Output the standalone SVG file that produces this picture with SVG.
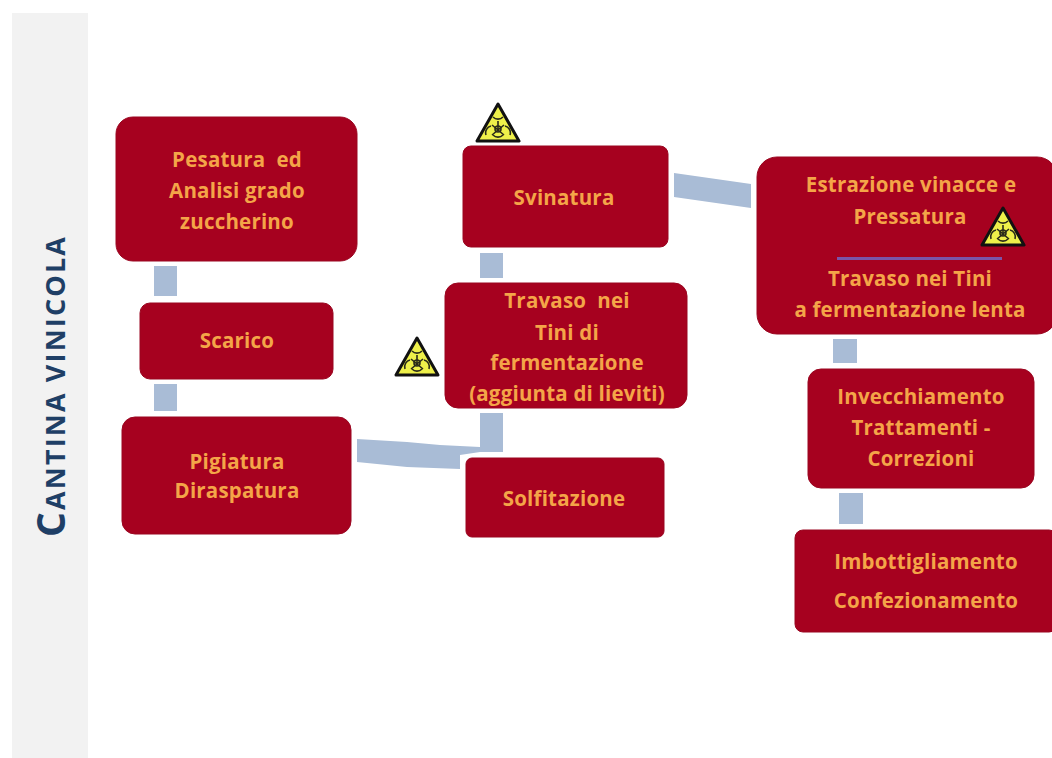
<svg xmlns="http://www.w3.org/2000/svg" width="1052" height="758" viewBox="0 0 1052 758">
<style>
.box{fill:#a6011f;stroke:#9a0620;stroke-width:1}
.t{font-family:"Open Sans","Liberation Sans",sans-serif;font-weight:700;font-size:20.5px;letter-spacing:.2px;fill:#f4a548;text-anchor:middle;transform:translateY(1px)}
.c{fill:#a9bcd6}
.title{font-family:"Open Sans","Liberation Sans",sans-serif;font-weight:700;fill:#1f3f66}
</style>
<defs>
<g id="bio">
<path d="M0,-19 L21,18 L-21,18 Z" fill="#eef04a" stroke="#111" stroke-width="3" stroke-linejoin="round"/>
<g fill="none" stroke="#2a2a1a" stroke-width="1.6">
<path d="M-5,-6A7,7 0 0 0 5,-6M-12,12A7,7 0 0 1 -7,3M12,12A7,7 0 0 0 7,3M-5,12A7,7 0 0 0 5,12"/>
<path d="M0,-2V7M-6,2L6,12M6,2L-6,12"/>
<circle cx="0" cy="6" r="3"/>
</g>
</g>
</defs>
<rect width="1052" height="758" fill="#fff"/>
<rect id="sidebar" x="12" y="13" width="76" height="745" fill="#f2f2f2"/>
<text class="title" transform="translate(65,537) rotate(-90)" font-size="27" textLength="300" lengthAdjust="spacing"><tspan font-size="39">C</tspan>ANTINA VINICOLA</text>
<g id="connectors">
<rect class="c" x="154" y="266" width="23" height="30"/>
<rect class="c" x="154" y="384" width="23" height="27"/>
<path class="c" d="M357,439 L407,442 L440,445 L480,447 L480,413 L503,413 L503,452 L480,452 L460,455 L460,469 L407,467 L357,462 Z"/>
<rect class="c" x="480" y="253" width="23" height="25"/>
<path class="c" d="M674,173 L751,184 L751,208 L674,197 Z"/>
<rect class="c" x="833" y="339" width="24" height="24"/>
<rect class="c" x="839" y="493" width="24" height="31"/>
</g>
<g id="n-pesatura"><rect class="box" x="116" y="117" width="241" height="144" rx="17"/>
<text class="t" x="237" y="166">Pesatura &#160;ed</text><text class="t" x="237" y="197">Analisi grado</text><text class="t" x="237" y="228">zuccherino</text></g>
<g id="n-scarico"><rect class="box" x="140" y="303" width="193" height="76" rx="10"/>
<text class="t" x="237" y="347">Scarico</text></g>
<g id="n-pigiatura"><rect class="box" x="122" y="417" width="229" height="117" rx="13"/>
<text class="t" x="237" y="468">Pigiatura</text><text class="t" x="237" y="497">Diraspatura</text></g>
<g id="n-solfitazione"><rect class="box" x="466" y="458" width="198" height="79" rx="6"/>
<text class="t" x="564" y="505">Solfitazione</text></g>
<g id="n-travaso"><rect class="box" x="445" y="283" width="242" height="125" rx="13"/>
<text class="t" x="567" y="307">Travaso &#160;nei</text><text class="t" x="567" y="339">Tini di</text><text class="t" x="567" y="369">fermentazione</text><text class="t" x="567" y="400">(aggiunta di lieviti)</text></g>
<g id="n-svinatura"><rect class="box" x="463" y="146" width="205" height="101" rx="8"/>
<text class="t" x="564" y="204">Svinatura</text></g>
<g id="n-estrazione"><rect class="box" x="757" y="157" width="300" height="177" rx="20"/>
<text class="t" x="911" y="191">Estrazione vinacce e</text><text class="t" x="910" y="223">Pressatura</text>
<rect x="837" y="257" width="165" height="3" fill="#7a55a8"/>
<text class="t" x="910" y="285">Travaso nei Tini</text><text class="t" x="910" y="316">a fermentazione lenta</text></g>
<g id="n-invecchiamento"><rect class="box" x="808" y="369" width="226" height="119" rx="13"/>
<text class="t" x="921" y="403">Invecchiamento</text><text class="t" x="921" y="434">Trattamenti -</text><text class="t" x="921" y="465">Correzioni</text></g>
<g id="n-imbottigliamento"><rect class="box" x="795" y="530" width="262" height="102" rx="8"/>
<text class="t" x="926" y="568">Imbottigliamento</text><text class="t" x="926" y="607">Confezionamento</text></g>
<use id="bio1" href="#bio" x="498" y="123"/>
<use id="bio2" href="#bio" x="417" y="357"/>
<use id="bio3" href="#bio" x="1003" y="227"/>
</svg>
